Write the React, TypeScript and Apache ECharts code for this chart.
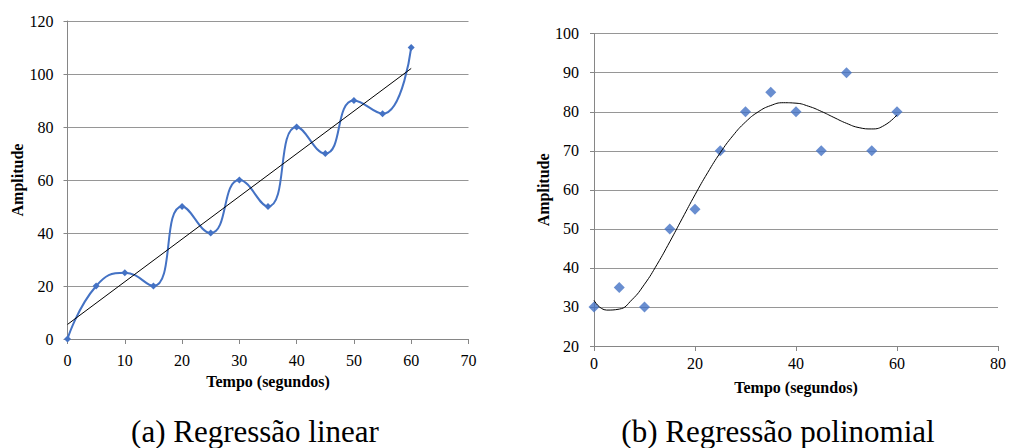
import React, { useEffect, useRef } from "react";
import * as echarts from "echarts";

// (a) Regressão linear
const timeA = [0, 5, 10, 15, 20, 25, 30, 35, 40, 45, 50, 55, 60];
const ampA = [0, 20, 25, 20, 50, 40, 60, 50, 80, 70, 90, 85, 110];
const linTrendX = [0, 60];
const linTrendY = [5.5, 102.1];

// (b) Regressão polinomial
const timeB = [0, 5, 10, 15, 20, 25, 30, 35, 40, 45, 50, 55, 60];
const ampB = [30, 35, 30, 50, 55, 70, 80, 85, 80, 70, 90, 70, 80];
const polyTrendX = [0, 2.5, 5, 7.5, 10, 12.5, 15, 17.5, 20, 22.5, 25, 27.5, 30, 32.5, 35, 37.5, 40, 42.5, 45, 47.5, 50, 52.5, 55, 57.5, 60];
const polyTrendY = [31.7, 29.2, 29.45, 31.83, 35.82, 40.92, 46.68, 52.73, 58.73, 64.39, 69.5, 73.87, 77.38, 79.97, 81.6, 82.32, 82.2, 81.41, 80.11, 78.55, 77.04, 75.93, 75.6, 76.52, 79.2];

const xTicksA = { min: 0, max: 70, interval: 10 };
const yTicksA = { min: 0, max: 120, interval: 20 };
const xTicksB = { min: 0, max: 80, interval: 20 };
const yTicksB = { min: 20, max: 100, interval: 10 };

const axisLabelName = "Amplitude";
const timeLabelName = "Tempo (segundos)";
const captionA = "(a) Regressão linear";
const captionB = "(b) Regressão polinomial";

const FONT = "Liberation Serif";
const BLUE = "#4472C4";
const AXIS = "#868686";
const GRIDC = "#969696";

export default function App() {
  const ref = useRef<HTMLDivElement>(null);
  useEffect(() => {
    if (!ref.current) return;
    const chart = echarts.init(ref.current, undefined, { renderer: "svg" });
    const zip = (xs: number[], ys: number[]) => xs.map((x, i) => [x, ys[i]]);
    const labelStyle = { fontFamily: FONT, fontSize: 16, color: "#000" };
    const nameStyle = { fontFamily: FONT, fontSize: 16, fontWeight: "bold" as const, color: "#000" };
    const mkX = (idx: number, t: any, gap: number, margin: number) => ({
      type: "value",
      gridIndex: idx,
      min: t.min,
      max: t.max,
      interval: t.interval,
      name: timeLabelName,
      nameLocation: "middle",
      nameGap: gap,
      nameTextStyle: nameStyle,
      axisLine: { show: true, lineStyle: { color: AXIS, width: 1 } },
      axisTick: { show: true, length: 5, lineStyle: { color: AXIS } },
      axisLabel: { ...labelStyle, margin },
      splitLine: { show: false },
    });
    const mkY = (idx: number, t: any, gap: number, margin: number) => ({
      type: "value",
      gridIndex: idx,
      min: t.min,
      max: t.max,
      interval: t.interval,
      name: axisLabelName,
      nameLocation: "middle",
      nameGap: gap,
      nameRotate: 90,
      nameTextStyle: nameStyle,
      axisLine: { show: true, lineStyle: { color: AXIS, width: 1 } },
      axisTick: { show: true, length: 4, lineStyle: { color: AXIS } },
      axisLabel: { ...labelStyle, margin },
      splitLine: { show: true, lineStyle: { color: GRIDC, width: 1 } },
    });
    chart.setOption({
      animation: false,
      backgroundColor: "#fff",
      grid: [
        { left: 67.5, top: 21, width: 401, height: 318 },
        { left: 594, top: 33.7, width: 405, height: 312.3 },
      ],
      xAxis: [mkX(0, xTicksA, 34, 13), mkX(1, xTicksB, 33, 9)],
      yAxis: [mkY(0, yTicksA, 42, 14), mkY(1, yTicksB, 43, 15)],
      graphic: [
        {
          type: "text",
          x: 255,
          y: 431,
          style: { text: captionA, fontFamily: FONT, fontSize: 31, fill: "#000", textAlign: "center", textVerticalAlign: "middle" },
        },
        {
          type: "text",
          x: 778,
          y: 431,
          style: { text: captionB, fontFamily: FONT, fontSize: 31, fill: "#000", textAlign: "center", textVerticalAlign: "middle" },
        },
      ],
      series: [
        {
          type: "line",
          xAxisIndex: 0,
          yAxisIndex: 0,
          data: zip(timeA, ampA),
          smooth: true,
          symbol: "diamond",
          symbolSize: 7,
          itemStyle: { color: BLUE },
          lineStyle: { color: BLUE, width: 2 },
        },
        {
          type: "line",
          xAxisIndex: 0,
          yAxisIndex: 0,
          data: zip(linTrendX, linTrendY),
          symbol: "none",
          lineStyle: { color: "#000", width: 1 },
        },
        {
          type: "line",
          xAxisIndex: 1,
          yAxisIndex: 1,
          data: zip(polyTrendX, polyTrendY),
          smooth: true,
          symbol: "none",
          lineStyle: { color: "#000", width: 1 },
        },
        {
          type: "scatter",
          xAxisIndex: 1,
          yAxisIndex: 1,
          data: zip(timeB, ampB),
          symbol: "diamond",
          symbolSize: 11,
          itemStyle: { color: BLUE },
        },
      ],
    });
    return () => chart.dispose();
  }, []);
  return (
    <div
      ref={ref}
      style={{ position: "fixed", left: 0, top: 0, width: 1009, height: 448, background: "#fff" }}
    />
  );
}
